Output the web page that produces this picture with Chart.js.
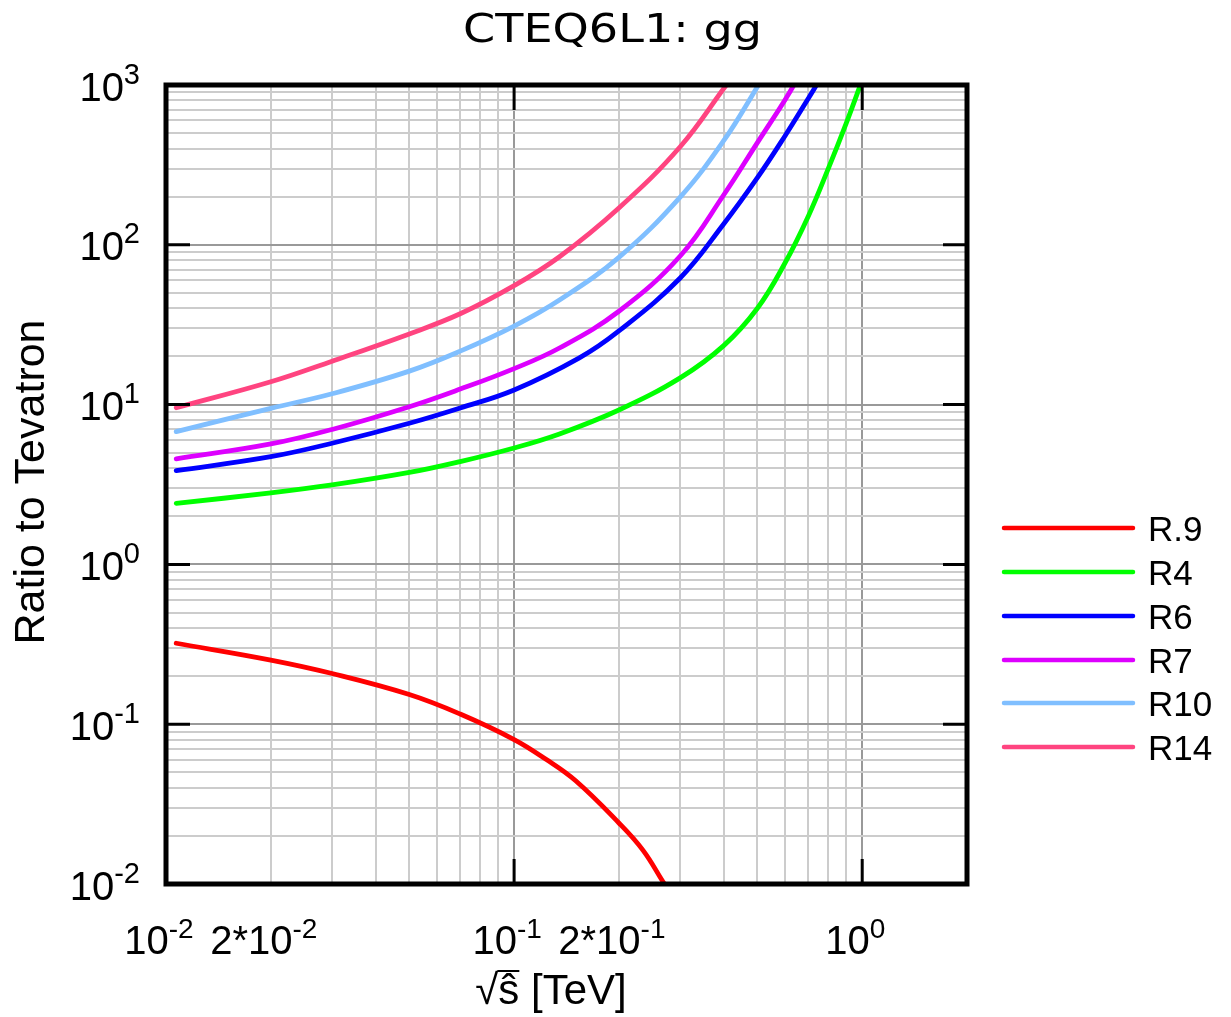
<!DOCTYPE html>
<html>
<head>
<meta charset="utf-8">
<script src="https://cdn.jsdelivr.net/npm/chart.js@4.4.0/dist/chart.umd.min.js"></script>
<style>
  html, body { margin: 0; padding: 0; background: #fff; }
</style>
</head>
<body>
<canvas id="myChart" width="1231" height="1017"></canvas>
<script>
// data (sqrt(s-hat) in TeV, ratio to Tevatron)
const seriesNames = ['R.9', 'R4', 'R6', 'R7', 'R10', 'R14'];
const seriesColors = ['#ff0000', '#00ff00', '#0000ff', '#dd00ff', '#80bfff', '#ff4480'];

const r09X = [0.0107, 0.02, 0.03, 0.05, 0.07, 0.1, 0.1238, 0.15, 0.2, 0.2344, 0.2677, 0.275];
const r09Y = [0.321, 0.252, 0.2076, 0.1534, 0.1158, 0.0802, 0.0601, 0.0444, 0.0241, 0.0163, 0.01033, 0.0094];

const r4X = [0.0107, 0.02, 0.03, 0.05, 0.07, 0.1, 0.135, 0.2, 0.3, 0.4, 0.5, 0.6, 0.7, 0.8, 0.9, 1.0];
const r4Y = [2.41, 2.80, 3.14, 3.76, 4.40, 5.35, 6.55, 9.25, 14.7, 23.4, 40.1, 76.9, 151, 302, 578, 1075];

const r6X = [0.0107, 0.02, 0.03, 0.05, 0.07, 0.1, 0.154, 0.2, 0.3, 0.4, 0.5, 0.6, 0.7, 0.745];
const r6Y = [3.86, 4.72, 5.73, 7.64, 9.52, 12.34, 19.6, 28.9, 62.0, 135, 263, 480, 823, 1029];

const r7X = [0.0107, 0.02, 0.03, 0.05, 0.07, 0.1, 0.135, 0.2, 0.3, 0.4, 0.5, 0.6, 0.66];
const r7Y = [4.57, 5.67, 6.99, 9.7, 12.5, 16.8, 22.6, 38.4, 85.1, 205, 436, 806, 1147];

const r10X = [0.0107, 0.02, 0.03, 0.05, 0.07, 0.1, 0.135, 0.2, 0.3, 0.4, 0.5, 0.52];
const r10Y = [6.77, 9.48, 11.69, 16.2, 21.6, 31.0, 45.1, 83.5, 199, 448, 976, 1140];

const r14X = [0.0107, 0.02, 0.03, 0.05, 0.07, 0.1, 0.135, 0.2, 0.3, 0.407, 0.42];
const r14Y = [9.56, 13.9, 18.7, 27.7, 37.0, 55.5, 84.2, 170, 411, 1000, 1090];

const allX = [r09X, r4X, r6X, r7X, r10X, r14X];
const allY = [r09Y, r4Y, r6Y, r7Y, r10Y, r14Y];

// tick labels
const xLabelVals = [0.01, 0.02, 0.1, 0.2, 1];
const xLabelPre = ['10', '2*10', '10', '2*10', '10'];
const xLabelExp = ['-2', '-2', '-1', '-1', '0'];
const yLabelVals = [1000, 100, 10, 1, 0.1, 0.01];
const yLabelExp = ['3', '2', '1', '0', '-1', '-2'];

const xMin = 0.01, xMax = 2, yMin = 0.01, yMax = 1000;

function logTicks(min, max) {
  const out = [];
  for (let e = Math.floor(Math.log10(min)); e <= Math.ceil(Math.log10(max)); e++) {
    for (let k = 1; k <= 9; k++) {
      const v = parseFloat((k * Math.pow(10, e)).toPrecision(6));
      if (v >= min * 0.999 && v <= max * 1.001) out.push({ value: v });
    }
  }
  return out;
}
function isMajor(v) {
  const l = Math.log10(v);
  return Math.abs(l - Math.round(l)) < 1e-6;
}

const LABEL_FONT = '"Liberation Sans", Arial, Helvetica, sans-serif';

function drawSup(ctx, pre, sup, x, y, mainSize, supSize, rise, align) {
  ctx.font = mainSize + 'px ' + LABEL_FONT;
  const w1 = ctx.measureText(pre).width;
  ctx.font = supSize + 'px ' + LABEL_FONT;
  const w2 = ctx.measureText(sup).width;
  let x0 = x;
  if (align === 'right') x0 = x - w1 - w2;
  if (align === 'center') x0 = x - (w1 + w2) / 2;
  ctx.textAlign = 'left';
  ctx.textBaseline = 'alphabetic';
  ctx.font = mainSize + 'px ' + LABEL_FONT;
  ctx.fillText(pre, x0, y);
  ctx.font = supSize + 'px ' + LABEL_FONT;
  ctx.fillText(sup, x0 + w1, y - rise);
}

const decorPlugin = {
  id: 'decor',
  afterDraw(chart) {
    const ctx = chart.ctx;
    const a = chart.chartArea;
    const xs = chart.scales.x, ys = chart.scales.y;
    ctx.save();
    ctx.fillStyle = '#000';
    ctx.strokeStyle = '#000';

    // inner major ticks
    ctx.lineWidth = 3;
    ctx.beginPath();
    for (const v of yLabelVals) {
      const py = ys.getPixelForValue(v);
      ctx.moveTo(a.left, py); ctx.lineTo(a.left + 24, py);
      ctx.moveTo(a.right, py); ctx.lineTo(a.right - 24, py);
    }
    for (const v of [0.1, 1]) {
      const px = xs.getPixelForValue(v);
      ctx.moveTo(px, a.top); ctx.lineTo(px, a.top + 25);
      ctx.moveTo(px, a.bottom); ctx.lineTo(px, a.bottom - 25);
    }
    ctx.stroke();

    // frame
    ctx.lineWidth = 5;
    ctx.strokeRect(a.left, a.top, a.right - a.left, a.bottom - a.top);

    // y tick labels
    yLabelVals.forEach((v, i) => {
      drawSup(ctx, '10', yLabelExp[i], 140, ys.getPixelForValue(v) + 15.5, 40, 29, 17, 'right');
    });
    // x tick labels
    xLabelVals.forEach((v, i) => {
      drawSup(ctx, xLabelPre[i], xLabelExp[i], xs.getPixelForValue(v) - 7, 954, 40, 28, 16, 'center');
    });

    // title
    ctx.font = '39px "DejaVu Sans", sans-serif';
    ctx.textAlign = 'center';
    ctx.textBaseline = 'alphabetic';
    const tw = ctx.measureText('CTEQ6L1: gg').width;
    ctx.save();
    ctx.translate(612.5, 42);
    ctx.scale(299 / tw, 1);
    ctx.fillText('CTEQ6L1: gg', 0, 0);
    ctx.restore();

    // y axis title
    ctx.save();
    ctx.translate(43.5, 482);
    ctx.rotate(-Math.PI / 2);
    ctx.font = '43px ' + LABEL_FONT;
    ctx.textAlign = 'center';
    ctx.fillText('Ratio to Tevatron', 0, 0);
    ctx.restore();

    // x axis title: sqrt(s-hat) [TeV]
    ctx.font = '42px ' + LABEL_FONT;
    ctx.textAlign = 'left';
    const full = '\u221A\u015D [TeV]';
    const fw = ctx.measureText(full).width;
    const x0 = 551 - fw / 2;
    ctx.fillText(full, x0, 1004);
    const rw = ctx.measureText('\u221A').width;
    const sw = ctx.measureText('\u015D').width;
    const asc = ctx.measureText('\u221A').actualBoundingBoxAscent;
    ctx.lineWidth = 2;
    ctx.beginPath();
    ctx.moveTo(x0 + rw - 1, 1004 - asc + 1);
    ctx.lineTo(x0 + rw + sw, 1004 - asc + 1);
    ctx.stroke();

    // legend
    const rows = [528, 572, 616, 660, 703, 747];
    chart.data.datasets.forEach((ds, i) => {
      ctx.strokeStyle = ds.borderColor;
      ctx.lineWidth = 4.5;
      ctx.lineCap = 'round';
      ctx.beginPath();
      ctx.moveTo(1004, rows[i]);
      ctx.lineTo(1133, rows[i]);
      ctx.stroke();
      ctx.fillStyle = '#000';
      ctx.font = '35px ' + LABEL_FONT;
      ctx.textAlign = 'left';
      ctx.fillText(ds.label, 1148, rows[i] + 12.5);
    });
    ctx.restore();
  }
};

const ctx = document.getElementById('myChart').getContext('2d');
const myChart = new Chart(ctx, {
  type: 'line',
  data: {
    datasets: seriesNames.map((name, i) => ({
      label: name,
      data: allX[i].map((x, j) => ({ x: x, y: allY[i][j] })),
      borderColor: seriesColors[i],
      backgroundColor: seriesColors[i],
      borderWidth: 4.8,
      borderCapStyle: 'round',
      pointRadius: 0,
      fill: false,
      tension: 0.4,
    })),
  },
  options: {
    responsive: false,
    animation: false,
    devicePixelRatio: 1,
    layout: { padding: { left: 166, top: 85, right: 264, bottom: 133 } },
    plugins: { legend: { display: false }, title: { display: false }, tooltip: { enabled: false } },
    scales: {
      x: {
        type: 'logarithmic', min: xMin, max: xMax,
        afterBuildTicks: (s) => { s.ticks = logTicks(xMin, xMax); },
        ticks: { display: false, autoSkip: false },
        border: { display: false },
        grid: {
          drawTicks: false, lineWidth: 2,
          color: (c) => (c.tick && isMajor(c.tick.value) ? '#999999' : '#cccccc'),
        },
      },
      y: {
        type: 'logarithmic', min: yMin, max: yMax,
        afterBuildTicks: (s) => { s.ticks = logTicks(yMin, yMax); },
        ticks: { display: false, autoSkip: false },
        border: { display: false },
        grid: {
          drawTicks: false, lineWidth: 2,
          color: (c) => (c.tick && isMajor(c.tick.value) ? '#999999' : '#cccccc'),
        },
      },
    },
  },
  plugins: [decorPlugin],
});
</script>
</body>
</html>
